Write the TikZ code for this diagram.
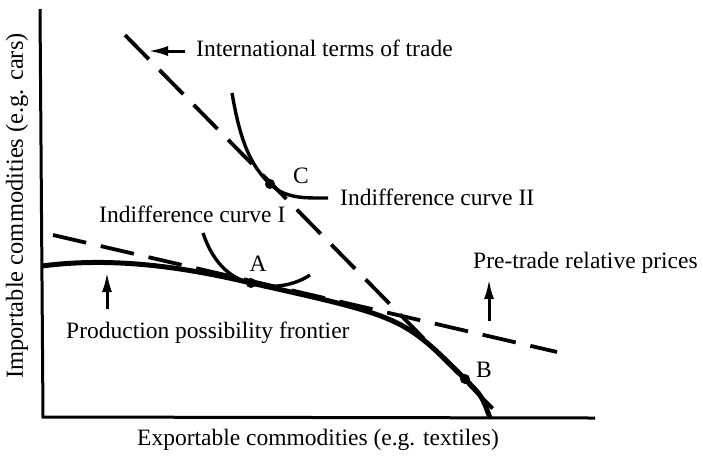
\documentclass[tikz,border=0pt]{standalone}
\usepackage{fontspec}
\setmainfont{Liberation Serif}
\usetikzlibrary{arrows.meta}
\begin{document}
\begin{tikzpicture}[x=1pt,y=-1pt,
  axisline/.style={line width=3pt},
  ppfline/.style={line width=5pt},
  icline/.style={line width=3.4pt},
  priceline/.style={line width=3.8pt,dash pattern=on 34pt off 15pt},
  pointer/.style={line width=3pt,-{Latex[length=20pt,width=10pt]}},
  lbl/.style={font=\fontsize{23.5}{26}\selectfont,inner sep=0pt},
  dot/.style={circle,fill=black,inner sep=0pt,minimum size=10pt}]
\useasboundingbox (0,0) rectangle (703,459);
% axes
\coordinate (top) at (40,9);
\coordinate (origin) at (43,417);
\coordinate (xend) at (595,418);
\draw[axisline] (top) -- (origin) -- (xend);
% points
\coordinate (A) at (251,283);
\coordinate (B) at (465,379);
\coordinate (C) at (270,184);
% PPF
\coordinate (ppfstart) at (42,266);
\coordinate (ppfend) at (490,418);
\draw[ppfline] (ppfstart) .. controls (110,257) and (180,266) .. (A)
  .. controls (403,317) .. (B) .. controls (482,396) .. (ppfend);
% price lines
\coordinate (pt1) at (53,235);
\coordinate (pt2) at (557,352);
\draw[priceline] (pt1) -- (pt2);
\coordinate (tt1) at (125,35);
\coordinate (tt2) at (502,418);
\draw[priceline] (tt1) -- (tt2);
% indifference curves
\coordinate (ic1s) at (203,233);
\coordinate (ic1e) at (310,275);
\draw[icline] (ic1s) .. controls (212,260) and (228,278) .. (A)
  .. controls (272,290) and (295,285) .. (ic1e);
\coordinate (ic2s) at (232,93);
\coordinate (ic2e) at (328,198);
\draw[icline] (ic2s) .. controls (240,140) and (250,165) .. (C)
  .. controls (286,199) and (305,198) .. (ic2e);
% dots
\node[dot] (dA) at (A) {};
\node[dot] (dB) at (B) {};
\node[dot] (dC) at (C) {};
% labels
\node[lbl,anchor=west] (ltt) at (196,48) {International terms of trade};
\node[lbl] (lC) at (301,176) {C};
\node[lbl,anchor=west] (lic2) at (340,197) {Indifference curve II};
\node[lbl,anchor=west] (lic1) at (99,214) {Indifference curve I};
\node[lbl] (lA) at (258,264) {A};
\node[lbl,anchor=west] (lpt) at (473,263) {Pre-trade relative prices};
\node[lbl,anchor=west] (lppf) at (66,333) {Production possibility frontier};
\node[lbl] (lB) at (484,370) {B};
\node[lbl] (lx) at (318,440) {Exportable commodities (e.g. textiles)};
\node[lbl,rotate=90,font=\fontsize{24.5}{27}\selectfont] (ly) at (17,206) {Importable commodities (e.g. cars)};
% pointers
\coordinate (p1s) at (185,51);
\coordinate (p1e) at (148,51);
\draw[pointer] (p1s) -- (p1e);
\coordinate (p2s) at (107,309);
\coordinate (p2e) at (107,272);
\draw[pointer] (p2s) -- (p2e);
\coordinate (p3s) at (489,321);
\coordinate (p3e) at (489,279);
\draw[pointer] (p3s) -- (p3e);
\end{tikzpicture}
\end{document}
